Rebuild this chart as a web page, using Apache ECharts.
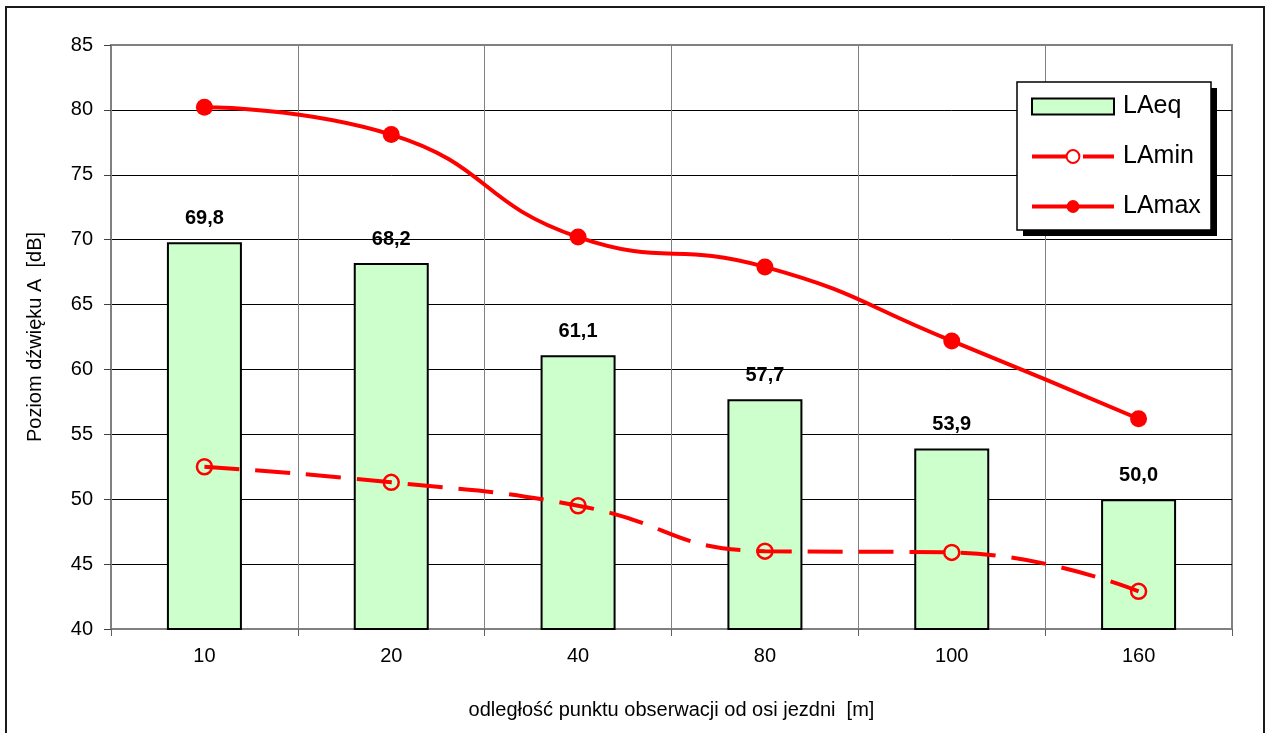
<!DOCTYPE html>
<html>
<head>
<meta charset="utf-8">
<script src="https://cdn.jsdelivr.net/npm/echarts@6/dist/echarts.min.js"></script>
<style>
  html, body { margin: 0; padding: 0; background: #fff; }
  #chart { width: 1273px; height: 733px; }
</style>
</head>
<body>
<div id="chart"></div>
<script>
// Distances from the road axis [m]
const distances = ['10', '20', '40', '80', '100', '160'];
// Sound levels [dB]
const laeq = [69.8, 68.2, 61.1, 57.7, 53.9, 50.0];
const lamin = [52.5, 51.3, 49.5, 46.0, 45.9, 42.9];
const lamax = [80.2, 78.1, 70.2, 67.9, 62.2, 56.2];
// Level axis range
const yMin = 40, yMax = 85, yStep = 5;

const FONT = "'Liberation Sans', Arial, sans-serif";

// horizontal grid lines: black, the topmost one blends with the grey frame
const hLineColors = [];
for (let v = yMin; v <= yMax; v += yStep) hLineColors.push(v === yMax ? '#808080' : '#000000');

// legend box geometry
const LEG = { x: 1017, y: 82, w: 194, h: 148, shadow: 6 };

const chart = echarts.init(document.getElementById('chart'), null, { renderer: 'canvas' });

chart.setOption({
  animation: false,
  backgroundColor: '#ffffff',
  textStyle: { fontFamily: FONT },
  graphic: [
    {
      type: 'rect', z: 3,
      shape: { x: LEG.x + LEG.shadow, y: LEG.y + LEG.shadow, width: LEG.w, height: LEG.h },
      style: { fill: '#000000', stroke: 'none' }
    },
    {
      type: 'rect', z: 3,
      shape: { x: LEG.x, y: LEG.y, width: LEG.w, height: LEG.h },
      style: { fill: '#ffffff', stroke: '#000000', lineWidth: 1.5 }
    },
    {
      type: 'rect', z: 100,
      shape: { x: 6, y: 7, width: 1258, height: 760 },
      style: { fill: 'none', stroke: '#1a1a1a', lineWidth: 2 }
    }
  ],
  grid: {
    left: 111, right: 41, top: 45, bottom: 104,
    show: true, borderColor: '#808080', borderWidth: 2, backgroundColor: 'transparent'
  },
  legend: {
    left: LEG.x, top: LEG.y,
    orient: 'vertical',
    padding: [12, 16, 12, 13],
    itemWidth: 82, itemHeight: 16, itemGap: 25,
    textStyle: { fontFamily: FONT, fontSize: 25, color: '#000', padding: [0, 0, 0, 4] },
    data: [
      { name: 'LAeq', icon: 'rect' },
      { name: 'LAmin', lineStyle: { width: 4 } },
      { name: 'LAmax', lineStyle: { width: 4 } }
    ]
  },
  xAxis: {
    type: 'category',
    data: distances,
    boundaryGap: true,
    name: 'odległość punktu obserwacji od osi jezdni  [m]',
    nameLocation: 'middle',
    nameGap: 71,
    nameTextStyle: { fontFamily: FONT, fontSize: 20, color: '#000' },
    axisLine: { lineStyle: { color: '#808080', width: 2 } },
    axisTick: { show: true, length: 7, alignWithLabel: false, lineStyle: { color: '#606060', width: 1 } },
    axisLabel: { fontFamily: FONT, fontSize: 20, color: '#000', margin: 17 },
    splitLine: { show: true, lineStyle: { color: '#808080', width: 1 } }
  },
  yAxis: {
    type: 'value',
    min: yMin, max: yMax, interval: yStep,
    name: 'Poziom dźwięku A  [dB]',
    nameLocation: 'middle',
    nameGap: 66,
    nameTextStyle: { fontFamily: FONT, fontSize: 20, color: '#000' },
    axisLine: { show: true, lineStyle: { color: '#808080', width: 2 } },
    axisTick: { show: true, length: 7, lineStyle: { color: '#404040', width: 1 } },
    axisLabel: { fontFamily: FONT, fontSize: 20, color: '#000', margin: 18 },
    splitLine: { show: true, lineStyle: { color: hLineColors, width: 1 } }
  },
  series: [
    {
      name: 'LAeq',
      type: 'bar',
      data: laeq,
      barWidth: 75,
      itemStyle: { color: '#CCFFCC', borderColor: '#000000', borderWidth: 2 },
      label: {
        show: true, position: 'top', distance: 14,
        fontFamily: FONT, fontSize: 20, fontWeight: 'bold', color: '#000',
        formatter: p => p.value.toFixed(1).replace('.', ',')
      }
    },
    {
      name: 'LAmin',
      type: 'line',
      data: lamin,
      smooth: 0.5,
      symbol: 'circle',
      symbolSize: 15,
      itemStyle: { color: 'rgba(255,255,255,0)', borderColor: '#FF0000', borderWidth: 2.5 },
      lineStyle: { color: '#FF0000', width: 4, type: [35, 16] },
      z: 3
    },
    {
      name: 'LAmax',
      type: 'line',
      data: lamax,
      smooth: 0.5,
      symbol: 'circle',
      symbolSize: 17,
      itemStyle: { color: '#FF0000' },
      lineStyle: { color: '#FF0000', width: 4 },
      z: 4
    }
  ]
});
</script>
</body>
</html>
